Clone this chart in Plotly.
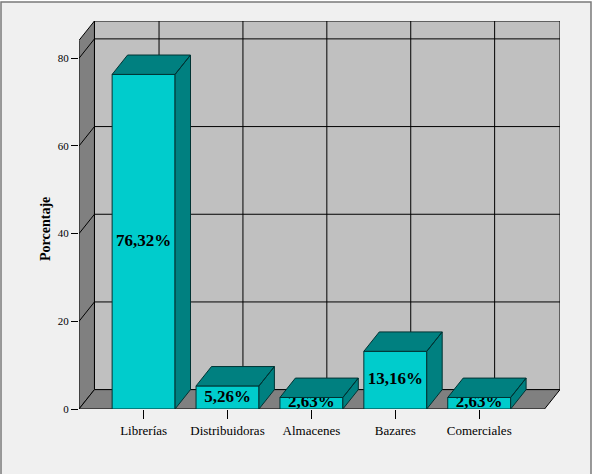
import plotly.graph_objects as go

# ---- data ----
categories = ["Librerías", "Distribuidoras", "Almacenes", "Bazares", "Comerciales"]
values = [76.32, 5.26, 2.63, 13.16, 2.63]
y_ticks = [0, 20, 40, 60, 80]
y_title = "Porcentaje"

# ---- style / geometry constants ----
W, H = 596, 474
L, R, T, B = 79, 36, 21, 65
X0, XMAX = -0.77, 4.963
YMAX = 88.5
DX, DY = 0.184, 4.42          # 3D depth offset in axis units
BW = 0.75                      # bar width in category units
SERIF = "Liberation Serif, Times New Roman, serif"
FRONT = "#00CCCC"
DARK = "#008080"
EDGE = "#003333"

xs = list(range(len(categories)))

fig = go.Figure()

def poly(px, py, fill, line="black", width=1):
    fig.add_trace(go.Scatter(x=px, y=py, mode="lines", fill="toself",
                             fillcolor=fill, line=dict(color=line, width=width),
                             hoverinfo="skip", showlegend=False))

# back wall
poly([X0 + DX, XMAX, XMAX, X0 + DX, X0 + DX], [DY, DY, YMAX, YMAX, DY], "#C0C0C0")
# left wall
poly([X0, X0 + DX, X0 + DX, X0, X0], [0, DY, YMAX, YMAX - DY, 0], "#808080")
# floor
poly([X0, XMAX - DX, XMAX, X0 + DX, X0], [0, 0, DY, DY, 0], "#808080")

# grid lines
gx, gy = [], []
for v in y_ticks[1:]:
    gx += [X0, X0 + DX, XMAX, None]
    gy += [v, v + DY, v + DY, None]
for i in xs:
    gx += [i + DX, i + DX, None]
    gy += [DY, YMAX, None]
fig.add_trace(go.Scatter(x=gx, y=gy, mode="lines", line=dict(color="black", width=1),
                         hoverinfo="skip", showlegend=False))

# bar front faces
fx, fy = [], []
for i, v in zip(xs, values):
    a, b = i - BW / 2, i + BW / 2
    fx += [a, b, b, a, a, None]
    fy += [0, 0, v, v, 0, None]
poly(fx, fy, FRONT, EDGE)

# data labels
labels = [f"{v:.2f}%".replace(".", ",") for v in values]
fig.add_trace(go.Scatter(x=xs, y=[v / 2 for v in values], mode="text", text=labels,
                         textposition="middle center",
                         textfont=dict(family=SERIF, size=17, color="black", weight="bold"),
                         hoverinfo="skip", showlegend=False))

# bar tops and sides
tx, ty = [], []
for i, v in zip(xs, values):
    a, b = i - BW / 2, i + BW / 2
    tx += [a, b, b + DX, a + DX, a, None]
    ty += [v, v, v + DY, v + DY, v, None]
    tx += [b, b + DX, b + DX, b, b, None]
    ty += [0, DY, v + DY, v, 0, None]
poly(tx, ty, DARK, EDGE)

pw = W - L - R
ph = H - T - B
def px2paper_x(p):
    return (p - L) / pw
def py2paper_y(p):
    return (H - B - p) / ph

fig.add_shape(type="rect", xref="paper", yref="paper",
              x0=px2paper_x(1), x1=px2paper_x(591), y0=py2paper_y(480), y1=py2paper_y(2),
              fillcolor="#F0F0F0", line=dict(color="#7a7a7a", width=1.5), layer="below")

fig.add_annotation(text=f"<b>{y_title}</b>", xref="paper", yref="paper",
                   x=px2paper_x(45), y=py2paper_y(229), textangle=-90,
                   showarrow=False, xanchor="center", yanchor="middle",
                   font=dict(family=SERIF, size=14, color="black"))

fig.update_layout(
    width=W, height=H,
    margin=dict(l=L, r=R, t=T, b=B, pad=0),
    paper_bgcolor="white", plot_bgcolor="rgba(0,0,0,0)",
    showlegend=False,
    xaxis=dict(range=[X0, XMAX], tickmode="array", tickvals=xs, ticktext=categories,
               ticks="outside", ticklen=9, tickcolor="black", tickwidth=1,
               showgrid=False, zeroline=False, showline=False, fixedrange=True,
               tickfont=dict(family=SERIF, size=13, color="black")),
    yaxis=dict(range=[0, YMAX], tickmode="array", tickvals=y_ticks,
               ticks="outside", ticklen=7, tickcolor="black", tickwidth=1,
               showgrid=False, zeroline=False, showline=False, fixedrange=True,
               tickfont=dict(family=SERIF, size=11, color="black")),
)

fig.write_html("out.html")
